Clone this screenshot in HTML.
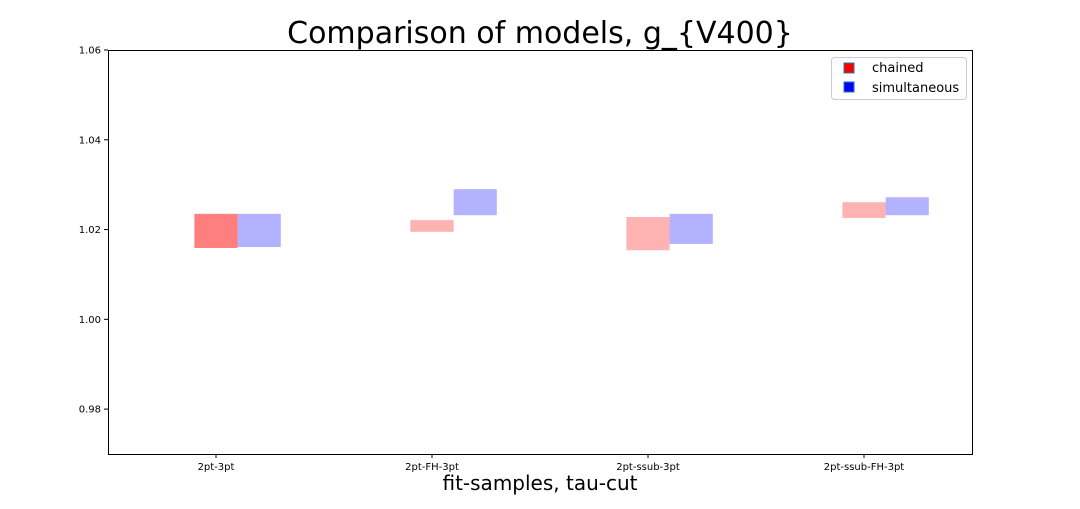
<!DOCTYPE html>
<html><head><meta charset="utf-8"><style>
body{margin:0;background:#fff;}
svg text{font-family:"DejaVu Sans","Liberation Sans",sans-serif;}
</style></head><body>
<svg id="chart" width="1080" height="504" xmlns="http://www.w3.org/2000/svg">
<text x="540" y="43" text-anchor="middle" font-size="30">Comparison of models, g_{V400}</text>
<g id="bars"></g>
<rect x="108.5" y="50.5" width="864" height="404" fill="none" stroke="#000" stroke-width="1"/>
<g id="axes"></g>
<text x="540" y="490" text-anchor="middle" font-size="20">fit-samples, tau-cut</text>
<g>
<rect x="831.5" y="57.5" width="135" height="42" rx="3" fill="#fff" stroke="#ccc"/>
<rect x="844" y="63" width="10" height="10" fill="#f00" stroke="#1f77b4" stroke-width="1"/>
<text x="872" y="72" font-size="13">chained</text>
<rect x="844" y="82" width="10" height="10" fill="#00f" stroke="#1f77b4" stroke-width="1"/>
<text x="872" y="92" font-size="13">simultaneous</text>
</g>
</svg>
<script>
const categories = ["2pt-3pt","2pt-FH-3pt","2pt-ssub-3pt","2pt-ssub-FH-3pt"];
const chainedLo = [1.0159,1.0195,1.0154,1.0226];
const chainedHi = [1.0235,1.0221,1.0228,1.0261];
const simLo = [1.0161,1.0232,1.0168,1.0232];
const simHi = [1.0235,1.0290,1.0235,1.0272];
const yTicks = [0.98,1.00,1.02,1.04,1.06];
const chainedOpacity = [0.5,0.3,0.3,0.3];

const X0=108, W=864, Y0=50, H=404, ymin=0.97, ymax=1.06;
const xs = v => X0 + (v + 0.5) / categories.length * W;
const ys = v => Y0 + (ymax - v) / (ymax - ymin) * H;
const NS="http://www.w3.org/2000/svg";
const bars=document.getElementById('bars'), axes=document.getElementById('axes');
function mk(tag, attrs, parent){const e=document.createElementNS(NS,tag);for(const k in attrs)e.setAttribute(k,attrs[k]);parent.appendChild(e);return e;}
categories.forEach((c,i)=>{
  const w = xs(0.2)-xs(0);
  let r = mk('rect',{x:xs(i-0.1),y:ys(chainedHi[i]),width:w,height:ys(chainedLo[i])-ys(chainedHi[i]),fill:'#f00','fill-opacity':chainedOpacity[i]},bars);
  
  
  let s = mk('rect',{x:xs(i+0.1),y:ys(simHi[i]),width:w,height:ys(simLo[i])-ys(simHi[i]),fill:'#00f','fill-opacity':0.3},bars);
  
  
  const x=xs(i);
  let t = mk('line',{x1:x,x2:x,y1:454,y2:458,stroke:'#000'},axes);
  
  
  let l = mk('text',{x:x,y:470,'text-anchor':'middle','font-size':10},axes);
  l.textContent=c;
  
  
});
yTicks.forEach(v=>{
  const y=ys(v);
  let t = mk('line',{x1:104,x2:108,y1:y,y2:y,stroke:'#000'},axes);
  
  
  let l = mk('text',{x:101,y:y+3.5,'text-anchor':'end','font-size':10},axes);
  l.textContent=v.toFixed(2);
  
  
});
</script>
</body></html>
